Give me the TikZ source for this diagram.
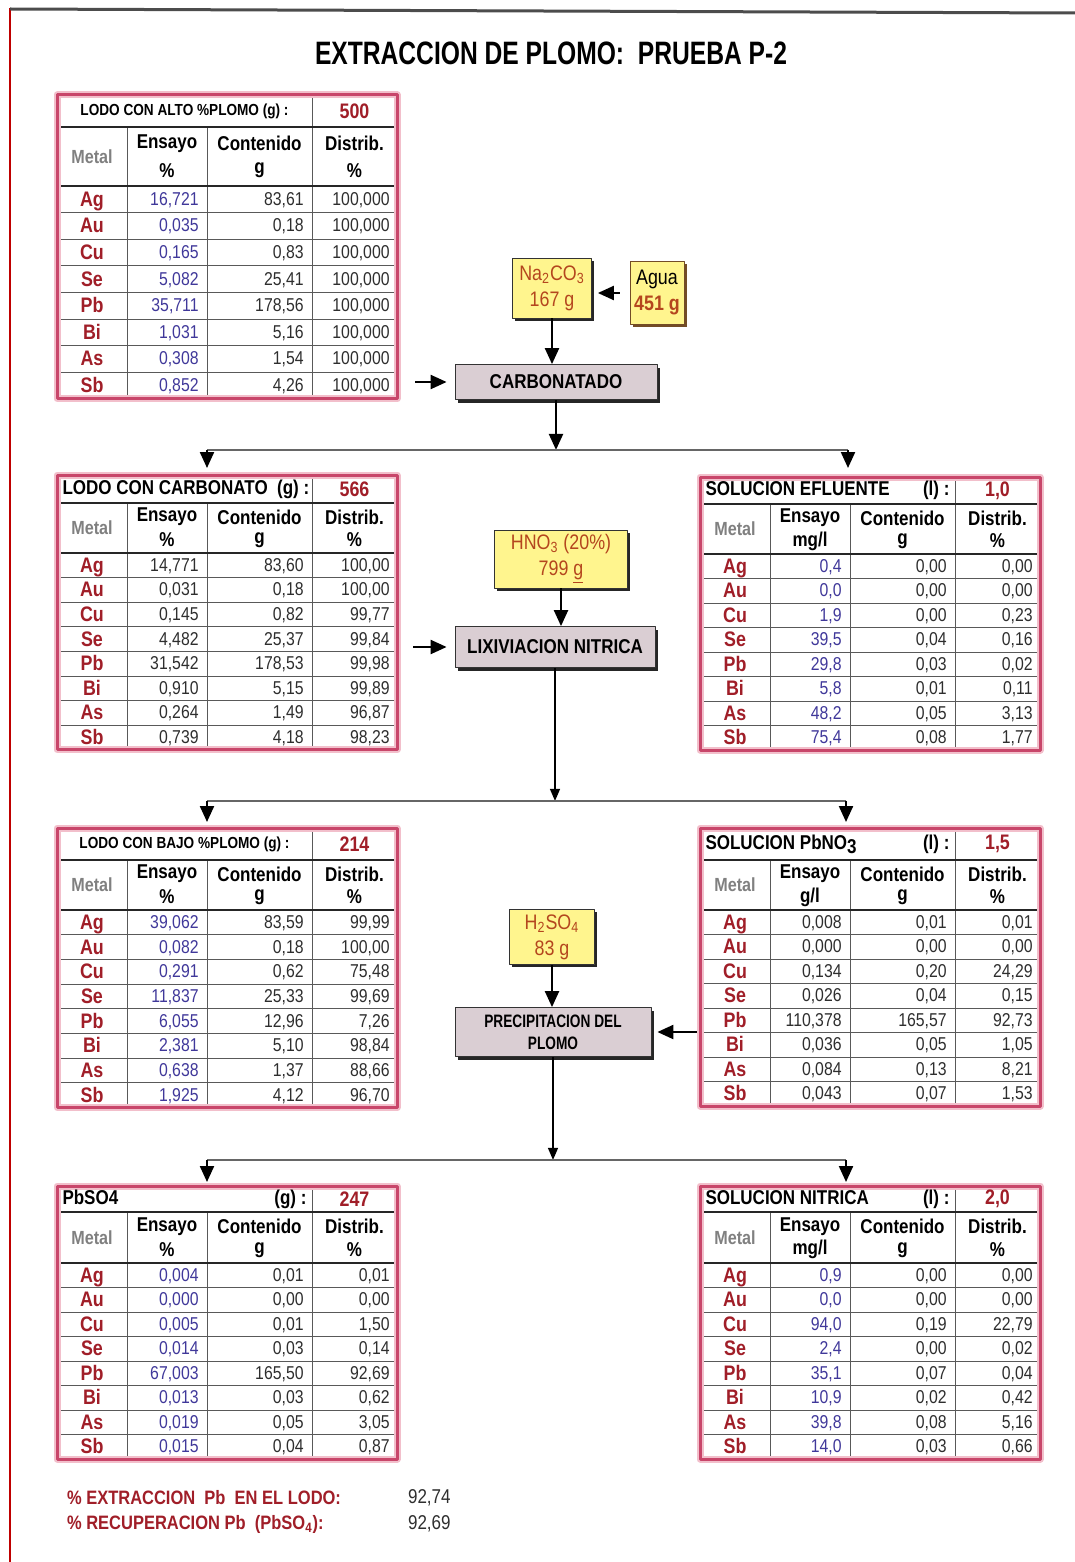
\documentclass[tikz,border=0pt]{standalone}
\usepackage{fontspec}
\setmainfont{Liberation Sans}[FakeStretch=0.85]
\newfontfamily\narrowfont{Liberation Sans}[FakeStretch=0.76]
\usetikzlibrary{arrows.meta,shadows,fit,positioning}

\definecolor{tabred}{HTML}{C8466A}
\definecolor{tabpink}{HTML}{F2BFCB}
\definecolor{metred}{HTML}{A01E28}
\definecolor{ensblue}{HTML}{40389A}
\definecolor{datgray}{HTML}{2E2E2E}
\definecolor{reagyel}{HTML}{FFF58E}
\definecolor{reagtxt}{HTML}{B4461E}
\definecolor{procgray}{HTML}{DACED3}

\tikzset{
  arr/.style={-{Triangle[length=8pt,width=7pt]},line width=1.1pt},
  thinarr/.style={-{Triangle[length=6pt,width=5pt]},line width=0.6pt},
  hline/.style={draw=black!60,line width=0.7pt},
  reagent/.style={draw=black!80,fill=reagyel,text=reagtxt,align=center,inner sep=1pt,
    font=\fontsize{10.5}{13}\selectfont,
    drop shadow={shadow xshift=1.3pt,shadow yshift=-1.3pt,fill=black!85,opacity=1}},
  process/.style={draw=black!80,fill=procgray,align=center,inner sep=1pt,
    font=\bfseries\fontsize{10}{11}\selectfont,
    drop shadow={shadow xshift=1.5pt,shadow yshift=-1.5pt,fill=black!85,opacity=1}},
  metal/.style={text=metred,font=\bfseries\fontsize{10.5}{11}\selectfont,
    inner sep=0pt,text height=7.5pt,text depth=0.5pt},
  datum/.style={text=datgray,anchor=east,font=\fontsize{9.3}{10}\selectfont,
    inner sep=0pt,text height=6.5pt,text depth=0.5pt},
  head/.style={font=\bfseries\fontsize{10}{11}\selectfont,inner sep=0pt},
  rowline/.style={draw=black!65,line width=0.5pt},
  sepline/.style={draw=black!85,line width=1.2pt},
}

% table geometry: title row, header, data row heights (px)
\newcommand{\settab}[3]{\def\tabT{#1}\def\tabH{#2}\def\tabR{#3}}
% #1 name, #2 x, #3 y, #4 title, #5 amount, #6 assay unit, #7 rows
\newcommand{\mtable}[7]{%
\begin{scope}[shift={(#2,#3)}]
  \pgfmathsetmacro\tabB{\tabT+\tabH}
  \pgfmathsetmacro\tabE{\tabB+8*\tabR}
  \fill[white] (0,0) rectangle (340,\tabE);
  \foreach \k in {1,...,7}
    \draw[rowline] (0,{\tabB+\k*\tabR}) -- (340,{\tabB+\k*\tabR});
  \draw[rowline] (70,\tabT) -- (70,\tabE) (150,\tabT) -- (150,\tabE) (255,0) -- (255,\tabE);
  \draw[sepline] (0,\tabT) -- (340,\tabT) (0,\tabB) -- (340,\tabB);
  \draw[tabpink,line width=3.5pt] (0,0) rectangle (340,\tabE);
  \draw[tabred,line width=1.5pt] (0,0) rectangle (340,\tabE);
  \node[fit={(0,0) (340,\tabE)},inner sep=0pt] (#1) {};
  \node[head] (#1-title) at (127.5,\tabT/2) {#4};
  \node[head,text=metred,font=\bfseries\fontsize{10.5}{11}\selectfont] (#1-val) at (297.5,\tabT/2) {#5};
  \node[head,text=black!50,font=\bfseries\fontsize{9.5}{10}\selectfont] (#1-hm) at (35,{\tabT+\tabH/2}) {Metal};
  \node[head] (#1-he) at (110,{\tabT+0.28*\tabH}) {Ensayo};
  \node[head] (#1-hue) at (110,{\tabT+0.74*\tabH}) {#6};
  \node[head] (#1-hc) at (202.5,{\tabT+0.28*\tabH}) {Contenido};
  \node[head] (#1-huc) at (202.5,{\tabT+0.74*\tabH}) {g};
  \node[head] (#1-hd) at (297.5,{\tabT+0.28*\tabH}) {Distrib.};
  \node[head] (#1-hud) at (297.5,{\tabT+0.74*\tabH}) {\%};
  \foreach \mt/\es/\co/\di [count=\i] in {#7}{
    \pgfmathsetmacro\ry{\tabB+(\i-0.5)*\tabR}
    \node[metal] (#1-m\i) at (35,\ry) {\mt};
    \node[datum,text=enscol] (#1-e\i) at (142,\ry) {\es};
    \node[datum] (#1-c\i) at (247,\ry) {\co};
    \node[datum] (#1-d\i) at (333,\ry) {\di};
  }
\end{scope}}

\begin{document}
\begin{tikzpicture}[x=0.5pt,y=-0.5pt,line join=round]
\useasboundingbox (0,0) rectangle (1075,1562);
% page frame
\draw[red!75!black,line width=1.2pt] (10,8) -- (10,1562);
\draw[black!70,line width=1.5pt] (10,9) -- (1075,13);

\node[font=\narrowfont\bfseries\fontsize{16.2}{18}\selectfont] (title) at (551,53) {EXTRACCION DE PLOMO:\ \ PRUEBA P-2};

% tables
\settab{32}{59}{26.6}\colorlet{enscol}{ensblue}
\mtable{t1}{57}{95}{\fontsize{8}{9}\selectfont LODO CON ALTO \%PLOMO (g) :}{500}{\%}{
  Ag/{16,721}/{83,61}/{100,000}, Au/{0,035}/{0,18}/{100,000},
  Cu/{0,165}/{0,83}/{100,000}, Se/{5,082}/{25,41}/{100,000},
  Pb/{35,711}/{178,56}/{100,000}, Bi/{1,031}/{5,16}/{100,000},
  As/{0,308}/{1,54}/{100,000}, Sb/{0,852}/{4,26}/{100,000}}

\settab{28}{50}{24.6}\colorlet{enscol}{datgray}
\mtable{t2}{57}{475}{\makebox[122pt][l]{LODO CON CARBONATO\ \ (g) :}}{566}{\%}{
  Ag/{14,771}/{83,60}/{100,00}, Au/{0,031}/{0,18}/{100,00},
  Cu/{0,145}/{0,82}/{99,77}, Se/{4,482}/{25,37}/{99,84},
  Pb/{31,542}/{178,53}/{99,98}, Bi/{0,910}/{5,15}/{99,89},
  As/{0,264}/{1,49}/{96,87}, Sb/{0,739}/{4,18}/{98,23}}

\settab{27}{50}{24.5}\colorlet{enscol}{ensblue}
\mtable{t3}{700}{477}{\makebox[122pt]{SOLUCION EFLUENTE\hfill(l) :}}{1,0}{mg/l}{
  Ag/{0,4}/{0,00}/{0,00}, Au/{0,0}/{0,00}/{0,00},
  Cu/{1,9}/{0,00}/{0,23}, Se/{39,5}/{0,04}/{0,16},
  Pb/{29,8}/{0,03}/{0,02}, Bi/{5,8}/{0,01}/{0,11},
  As/{48,2}/{0,05}/{3,13}, Sb/{75,4}/{0,08}/{1,77}}

\settab{32}{50}{24.7}\colorlet{enscol}{ensblue}
\mtable{t4}{57}{828}{\fontsize{8}{9}\selectfont LODO CON BAJO \%PLOMO (g) :}{214}{\%}{
  Ag/{39,062}/{83,59}/{99,99}, Au/{0,082}/{0,18}/{100,00},
  Cu/{0,291}/{0,62}/{75,48}, Se/{11,837}/{25,33}/{99,69},
  Pb/{6,055}/{12,96}/{7,26}, Bi/{2,381}/{5,10}/{98,84},
  As/{0,638}/{1,37}/{88,66}, Sb/{1,925}/{4,12}/{96,70}}

\settab{32}{50}{24.5}\colorlet{enscol}{datgray}
\mtable{t5}{700}{828}{\makebox[122pt]{SOLUCION PbNO\raisebox{-2pt}{3}\hfill(l) :}}{1,5}{g/l}{
  Ag/{0,008}/{0,01}/{0,01}, Au/{0,000}/{0,00}/{0,00},
  Cu/{0,134}/{0,20}/{24,29}, Se/{0,026}/{0,04}/{0,15},
  Pb/{110,378}/{165,57}/{92,73}, Bi/{0,036}/{0,05}/{1,05},
  As/{0,084}/{0,13}/{8,21}, Sb/{0,043}/{0,07}/{1,53}}

\settab{26}{51}{24.5}\colorlet{enscol}{ensblue}
\mtable{t6}{57}{1186}{\makebox[122pt]{PbSO4\hfill(g) :}}{247}{\%}{
  Ag/{0,004}/{0,01}/{0,01}, Au/{0,000}/{0,00}/{0,00},
  Cu/{0,005}/{0,01}/{1,50}, Se/{0,014}/{0,03}/{0,14},
  Pb/{67,003}/{165,50}/{92,69}, Bi/{0,013}/{0,03}/{0,62},
  As/{0,019}/{0,05}/{3,05}, Sb/{0,015}/{0,04}/{0,87}}

\settab{26}{51}{24.5}\colorlet{enscol}{ensblue}
\mtable{t7}{700}{1186}{\makebox[122pt]{SOLUCION NITRICA\hfill(l) :}}{2,0}{mg/l}{
  Ag/{0,9}/{0,00}/{0,00}, Au/{0,0}/{0,00}/{0,00},
  Cu/{94,0}/{0,19}/{22,79}, Se/{2,4}/{0,00}/{0,02},
  Pb/{35,1}/{0,07}/{0,04}, Bi/{10,9}/{0,02}/{0,42},
  As/{39,8}/{0,08}/{5,16}, Sb/{14,0}/{0,03}/{0,66}}

% process stages
\node[reagent,minimum width=39.5pt,minimum height=30pt] (naco) at (552,288) {Na\textsubscript{2}CO\textsubscript{3}\\167 g};
\node[reagent,text=black,draw=brown!60!black,minimum width=27pt,minimum height=31.5pt,
  drop shadow={shadow xshift=1.3pt,shadow yshift=-1.3pt,fill=brown!60!black,opacity=1}] (agua) at (657,293) {Agua\\\textcolor{reagtxt}{\bfseries 451 g}};
\node[process,minimum width=101pt,minimum height=17.5pt] (carb) at (556,382) {CARBONATADO};

\node[reagent,minimum width=66.5pt,minimum height=29pt] (hno) at (561,559) {HNO\textsubscript{3} (20\%)\\799 \underline{g}};
\node[process,minimum width=100pt,minimum height=20.5pt] (lix) at (555,647) {LIXIVIACION NITRICA};

\node[reagent,minimum width=42.5pt,minimum height=27.5pt] (hso) at (552,937) {H\textsubscript{2}SO\textsubscript{4}\\83 g};
\node[process,minimum width=98pt,minimum height=24.5pt,
  font=\narrowfont\bfseries\fontsize{9}{11}\selectfont] (prec) at (553,1032) {PRECIPITACION DEL\\PLOMO};

% connectors
\draw[arr] ([xshift=-5pt]agua.west) -- ([xshift=3pt]agua.west -| naco.east);
\draw[arr] (naco.south) -- (naco.south |- carb.north);
\draw[arr] ([xshift=9pt]t1.east |- carb.west) -- ([xshift=-4pt]carb.west);
\path (carb.south) ++(0,50) coordinate (sp1);
\draw[arr] (carb.south) -- (sp1);
\coordinate (in2) at (207,468);
\coordinate (in3) at (848,468);
\draw[hline] (in2 |- sp1) -- (in3 |- sp1);
\draw[arr] (in2 |- sp1) -- (in2);
\draw[arr] (in3 |- sp1) -- (in3);

\draw[arr] (hno.south) -- (hno.south |- lix.north);
\draw[arr] ([xshift=8pt]t2.east |- lix.west) -- ([xshift=-4pt]lix.west);
\path (lix.south) ++(0,133) coordinate (sp2);
\draw[thinarr] (lix.south) -- (sp2);
\coordinate (in4) at (207,822);
\coordinate (in5) at (846,822);
\draw[hline] (in4 |- sp2) -- (in5 |- sp2);
\draw[arr] (in4 |- sp2) -- (in4);
\draw[arr] (in5 |- sp2) -- (in5);

\draw[arr] (hso.south) -- (hso.south |- prec.north);
\draw[arr] ([xshift=-1.5pt]t5.west |- prec.east) -- ([xshift=3pt]prec.east);
\path (prec.south) ++(0,103) coordinate (sp3);
\draw[thinarr] (prec.south) -- (sp3);
\coordinate (in6) at (207,1182);
\coordinate (in7) at (846,1182);
\draw[hline] (in6 |- sp3) -- (in7 |- sp3);
\draw[arr] (in6 |- sp3) -- (in6);
\draw[arr] (in7 |- sp3) -- (in7);

% results
\node[anchor=west,text=metred,font=\bfseries\fontsize{9.7}{12}\selectfont] (ext) at (60,1498) {\% EXTRACCION\ \ Pb\ \ EN EL LODO:};
\node[anchor=west,text=datgray,font=\fontsize{10}{12}\selectfont] (extv) at (401,1498) {92,74};
\node[anchor=west,text=metred,font=\bfseries\fontsize{9.7}{12}\selectfont] (rec) at (60,1524) {\% RECUPERACION Pb\ \ (PbSO\textsubscript{4}):};
\node[anchor=west,text=datgray,font=\fontsize{10}{12}\selectfont] (recv) at (401,1524) {92,69};
\end{tikzpicture}
\end{document}
